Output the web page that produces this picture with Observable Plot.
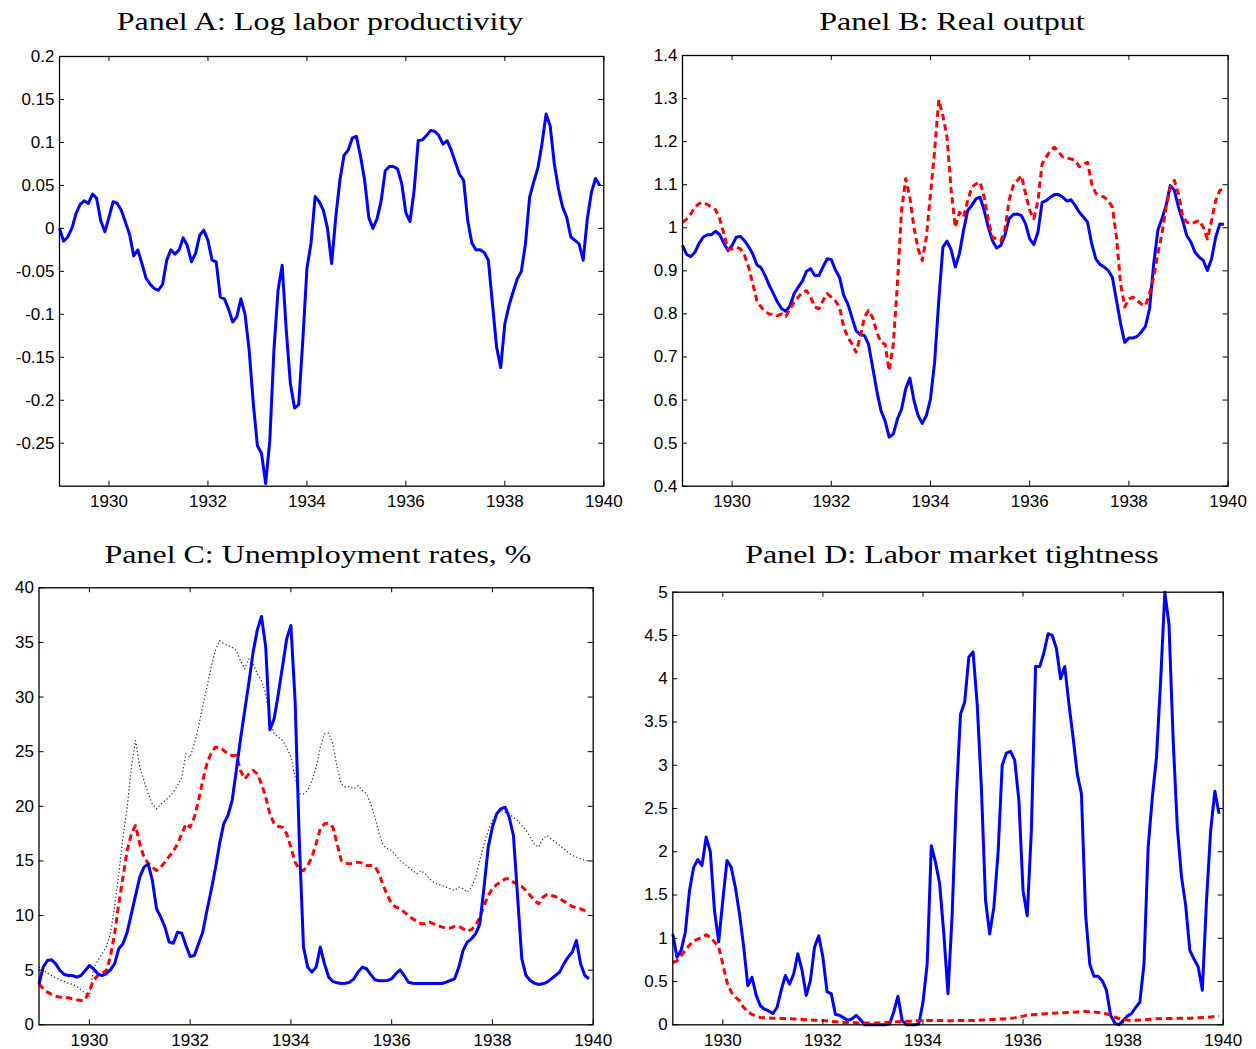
<!DOCTYPE html>
<html>
<head>
<meta charset="utf-8">
<script src="https://cdn.jsdelivr.net/npm/d3@7"></script>
<script src="https://cdn.jsdelivr.net/npm/@observablehq/plot@0.6"></script>
<style>
  html, body { margin: 0; padding: 0; background: #fff; }
  #fig { position: relative; width: 1256px; height: 1049px; overflow: hidden; }
</style>
</head>
<body>
<div id="fig"></div>
<script>
// Monthly observations, January 1929 through December 1939 (one row per year below).
const months = d3.range(132).map(i => 1929 + i / 12);

const xTicks = [1930, 1932, 1934, 1936, 1938, 1940];
const xTickLabels = ["1930", "1932", "1934", "1936", "1938", "1940"];

// Panel A: log labor productivity
const productivity = [
  0, -0.015, -0.01, 0, 0.017, 0.028, 0.032, 0.029, 0.04, 0.035, 0.009, -0.004,
  0.013, 0.031, 0.029, 0.021, 0.007, -0.007, -0.032, -0.025, -0.041, -0.058, -0.065, -0.07,
  -0.072, -0.065, -0.037, -0.025, -0.03, -0.025, -0.011, -0.02, -0.039, -0.029, -0.008, -0.002,
  -0.014, -0.037, -0.039, -0.08, -0.082, -0.094, -0.109, -0.103, -0.082, -0.1, -0.142, -0.204,
  -0.253, -0.262, -0.297, -0.247, -0.142, -0.072, -0.043, -0.119, -0.181, -0.209, -0.205, -0.131,
  -0.047, -0.017, 0.037, 0.031, 0.021, 0.0, -0.041, 0.013, 0.056, 0.085, 0.091, 0.105,
  0.107, 0.084, 0.056, 0.013, 0.0, 0.011, 0.032, 0.067, 0.072, 0.072, 0.069, 0.052,
  0.018, 0.008, 0.044, 0.102, 0.103, 0.108, 0.114, 0.113, 0.108, 0.098, 0.102, 0.091,
  0.077, 0.063, 0.056, 0.009, -0.017, -0.025, -0.025, -0.028, -0.037, -0.088, -0.138, -0.162,
  -0.111, -0.09, -0.074, -0.059, -0.05, -0.018, 0.036, 0.054, 0.07, 0.098, 0.133, 0.119,
  0.075, 0.046, 0.025, 0.013, -0.01, -0.014, -0.018, -0.037, 0.011, 0.042, 0.058, 0.05
];
const yTicksA = [-0.25, -0.2, -0.15, -0.1, -0.05, 0, 0.05, 0.1, 0.15, 0.2];
const yLabelsA = ["-0.25", "-0.2", "-0.15", "-0.1", "-0.05", "0", "0.05", "0.1", "0.15", "0.2"];

// Panel B: real output (solid and dashed series)
const outputSolid = [
  0.959, 0.938, 0.933, 0.943, 0.964, 0.978, 0.984, 0.984, 0.992, 0.984, 0.964, 0.947,
  0.959, 0.978, 0.980, 0.970, 0.956, 0.939, 0.914, 0.907, 0.889, 0.866, 0.847, 0.827,
  0.812, 0.806, 0.819, 0.847, 0.862, 0.876, 0.899, 0.905, 0.889, 0.889, 0.909, 0.928,
  0.926, 0.902, 0.885, 0.843, 0.823, 0.792, 0.761, 0.752, 0.750, 0.730, 0.676, 0.622,
  0.576, 0.552, 0.514, 0.521, 0.556, 0.579, 0.626, 0.651, 0.599, 0.564, 0.546, 0.564,
  0.603, 0.688, 0.831, 0.955, 0.969, 0.949, 0.909, 0.940, 0.994, 1.040, 1.052, 1.067,
  1.071, 1.040, 1.001, 0.970, 0.953, 0.959, 0.982, 1.021, 1.031, 1.032, 1.028, 1.009,
  0.974, 0.961, 0.990, 1.059, 1.063, 1.071, 1.077, 1.077, 1.071, 1.062, 1.065, 1.052,
  1.036, 1.025, 1.013, 0.963, 0.928, 0.915, 0.909, 0.901, 0.885, 0.831, 0.777, 0.734,
  0.744, 0.744, 0.748, 0.758, 0.771, 0.812, 0.916, 0.994, 1.021, 1.052, 1.098, 1.087,
  1.048, 1.017, 0.982, 0.967, 0.943, 0.932, 0.924, 0.901, 0.928, 0.978, 1.009, 1.008
];
const outputDashed = [
  1.013, 1.02, 1.032, 1.048, 1.056, 1.059, 1.054, 1.048, 1.042, 1.021, 0.986, 0.951,
  0.951, 0.955, 0.951, 0.936, 0.909, 0.870, 0.831, 0.816, 0.806, 0.800, 0.799, 0.796,
  0.800, 0.794, 0.812, 0.827, 0.839, 0.850, 0.854, 0.839, 0.816, 0.812, 0.831, 0.847,
  0.839, 0.830, 0.816, 0.769, 0.746, 0.730, 0.711, 0.746, 0.792, 0.808, 0.792, 0.758,
  0.734, 0.730, 0.668, 0.730, 0.870, 1.040, 1.114, 1.071, 1.001, 0.951, 0.924, 0.978,
  1.079, 1.179, 1.297, 1.26, 1.21, 1.087, 1.001, 1.036, 1.025, 1.063, 1.094, 1.102,
  1.106, 1.071, 1.017, 0.978, 0.974, 0.970, 0.994, 1.063, 1.098, 1.110, 1.121, 1.079,
  1.040, 1.021, 1.063, 1.148, 1.164, 1.179, 1.187, 1.176, 1.164, 1.162, 1.160, 1.156,
  1.142, 1.148, 1.152, 1.102, 1.080, 1.075, 1.071, 1.063, 1.048, 0.978, 0.870, 0.816,
  0.835, 0.839, 0.831, 0.823, 0.819, 0.847, 0.885, 0.940, 0.986, 1.048, 1.094, 1.110,
  1.079, 1.028, 1.013, 1.009, 1.013, 1.017, 1.001, 0.974, 1.017, 1.063, 1.087, 1.090
];
const yTicksB = [0.4, 0.5, 0.6, 0.7, 0.8, 0.9, 1, 1.1, 1.2, 1.3, 1.4];
const yLabelsB = ["0.4", "0.5", "0.6", "0.7", "0.8", "0.9", "1", "1.1", "1.2", "1.3", "1.4"];

// Panel C: unemployment rates, percent (solid, dashed, dotted series)
const unempSolid = [
  3.75, 5.28, 5.89, 5.95, 5.58, 4.97, 4.61, 4.51, 4.51, 4.36, 4.51, 4.97,
  5.43, 5.13, 4.67, 4.51, 4.67, 5.03, 5.58, 6.96, 7.41, 8.48, 10.16, 11.84,
  13.51, 14.43, 14.73, 13.21, 10.62, 9.85, 8.94, 7.57, 7.47, 8.48, 8.39, 7.26,
  6.25, 6.35, 7.41, 8.48, 10.46, 12.29, 14.28, 16.56, 18.40, 19.16, 20.53, 23.28,
  26.17, 28.77, 31.36, 34.11, 36.15, 37.37, 34.57, 27.0, 28.0, 30.29, 32.79, 35.33,
  36.55, 29.68, 16.87, 7.11, 5.28, 4.82, 5.28, 7.11, 5.58, 4.36, 3.97, 3.84,
  3.78, 3.81, 3.90, 4.21, 4.82, 5.28, 5.13, 4.61, 4.12, 4.03, 4.03, 4.06,
  4.21, 4.67, 5.03, 4.51, 3.90, 3.81, 3.78, 3.78, 3.78, 3.78, 3.78, 3.78,
  3.78, 3.90, 4.06, 4.21, 5.28, 6.8, 7.57, 7.87, 8.33, 9.24, 12.6, 16.26,
  18.09, 19.31, 19.77, 19.92, 19.0, 17.33, 11.68, 6.04, 4.51, 4.06, 3.81, 3.69,
  3.75, 3.90, 4.21, 4.51, 4.82, 5.58, 6.19, 6.65, 7.72, 5.58, 4.51, 4.21
];
const unempDashed = [
  3.75, 3.29, 2.99, 2.78, 2.62, 2.53, 2.53, 2.47, 2.38, 2.29, 2.23, 2.29,
  3.14, 4.06, 4.51, 4.67, 4.97, 6.19, 8.33, 11.07, 13.51, 15.95, 17.48, 18.24,
  16.56, 15.34, 14.8, 14.43, 14.12, 14.43, 14.89, 15.41, 15.89, 16.56, 17.48, 18.4,
  18.09, 19.0, 20.53, 22.36, 23.89, 24.86, 25.41, 25.41, 25.11, 24.80, 24.65, 24.65,
  23.28, 22.51, 22.97, 23.28, 22.97, 22.06, 20.84, 19.31, 18.4, 18.15, 18.09, 17.48,
  16.26, 14.89, 14.19, 14.12, 14.58, 15.34, 16.56, 17.94, 18.4, 18.46, 18.09, 16.56,
  15.04, 14.8, 14.73, 14.8, 14.89, 14.8, 14.58, 14.58, 14.49, 13.82, 12.75, 11.84,
  11.07, 10.77, 10.62, 10.31, 10.01, 9.7, 9.49, 9.24, 9.24, 9.40, 9.24, 9.09,
  8.94, 8.85, 8.85, 9.0, 9.0, 8.79, 8.57, 8.72, 9.09, 9.85, 10.92, 11.84,
  12.45, 12.84, 13.06, 13.36, 13.36, 13.06, 12.84, 12.66, 12.29, 11.84, 11.38, 11.07,
  11.68, 11.93, 11.84, 11.75, 11.53, 11.32, 11.07, 10.83, 10.71, 10.62, 10.46, 10.31
];
const unempDotted = [
  5.28, 4.97, 4.73, 4.51, 4.30, 4.12, 3.97, 3.81, 3.69, 3.51, 3.20, 2.9,
  2.6, 5.13, 5.89, 6.5, 7.11, 8.33, 10.77, 13.82, 17.17, 19.92, 23.58, 26.02,
  23.58, 22.36, 21.14, 20.23, 19.77, 20.16, 20.53, 20.84, 21.29, 21.9, 22.67, 24.8,
  24.5, 25.72, 27.24, 29.22, 30.9, 32.73, 34.26, 35.17, 34.87, 34.72, 34.56, 34.26,
  33.34, 32.58, 33.49, 33.04, 32.12, 31.51, 30.29, 27.85, 26.63, 26.33, 26.02, 25.41,
  24.5, 22.67, 21.14, 21.14, 21.45, 22.36, 23.58, 25.41, 26.63, 26.69, 25.72, 23.58,
  22.06, 21.75, 21.81, 21.6, 21.9, 21.45, 21.14, 20.23, 19.0, 17.48, 16.41, 16.11,
  15.95, 15.5, 15.04, 14.73, 14.43, 14.12, 13.82, 14.12, 13.82, 13.36, 13.06, 12.84,
  12.75, 12.6, 12.45, 12.29, 12.6, 12.45, 12.14, 12.6, 13.51, 15.04, 16.56, 17.78,
  18.7, 19.31, 19.62, 19.46, 19.31, 19.0, 18.7, 18.24, 17.78, 17.17, 16.56, 16.26,
  17.02, 17.33, 17.02, 16.72, 16.41, 16.11, 15.8, 15.5, 15.34, 15.19, 15.04, 15.04
];
const yTicksC = [0, 5, 10, 15, 20, 25, 30, 35, 40];
const yLabelsC = ["0", "5", "10", "15", "20", "25", "30", "35", "40"];

// Panel D: labor market tightness (solid and dashed series)
const tightSolid = [
  1.05, 0.78, 0.86, 1.07, 1.55, 1.82, 1.91, 1.84, 2.17, 2.0, 1.32, 0.96,
  1.44, 1.9, 1.82, 1.59, 1.28, 0.90, 0.45, 0.55, 0.34, 0.22, 0.18, 0.16,
  0.13, 0.20, 0.40, 0.57, 0.47, 0.59, 0.82, 0.63, 0.34, 0.51, 0.90, 1.03,
  0.78, 0.38, 0.36, 0.12, 0.11, 0.08, 0.05, 0.07, 0.11, 0.06, 0, 0,
  0, 0, 0, 0, 0.01, 0.15, 0.33, 0.05, 0, 0, 0, 0.01,
  0.26, 0.70, 2.07, 1.88, 1.63, 1.05, 0.36, 1.28, 2.63, 3.59, 3.73, 4.25,
  4.31, 3.71, 2.75, 1.44, 1.05, 1.36, 1.98, 3.0, 3.14, 3.16, 3.06, 2.59,
  1.55, 1.26, 2.25, 4.14, 4.14, 4.30, 4.52, 4.50, 4.35, 4.0, 4.14, 3.71,
  3.32, 2.90, 2.67, 1.28, 0.70, 0.56, 0.56, 0.51, 0.40, 0.11, 0.02, 0,
  0.05, 0.10, 0.13, 0.20, 0.26, 0.70, 2.05, 2.63, 3.09, 3.98, 5.0, 4.63,
  3.29, 2.28, 1.71, 1.38, 0.86, 0.76, 0.67, 0.40, 1.44, 2.25, 2.70, 2.44
];
const tightDashed = [
  0.72, 0.74, 0.80, 0.86, 0.92, 0.97, 0.99, 1.01, 1.04, 1.01, 0.96, 0.90,
  0.70, 0.49, 0.38, 0.32, 0.28, 0.20, 0.15, 0.12, 0.10, 0.085, 0.082, 0.08,
  0.077, 0.076, 0.074, 0.072, 0.07, 0.068, 0.065, 0.062, 0.058, 0.056, 0.054, 0.052,
  0.05, 0.045, 0.04, 0.035, 0.03, 0.028, 0.026, 0.024, 0.023, 0.022, 0.021, 0.02,
  0.02, 0.022, 0.025, 0.028, 0.03, 0.033, 0.035, 0.038, 0.04, 0.042, 0.045, 0.048,
  0.05, 0.05, 0.05, 0.05, 0.05, 0.049, 0.048, 0.048, 0.049, 0.05, 0.05, 0.05,
  0.05, 0.052, 0.055, 0.057, 0.06, 0.062, 0.065, 0.068, 0.07, 0.075, 0.08, 0.09,
  0.1, 0.11, 0.115, 0.12, 0.123, 0.126, 0.13, 0.133, 0.135, 0.138, 0.14, 0.143,
  0.146, 0.149, 0.152, 0.154, 0.152, 0.148, 0.143, 0.135, 0.127, 0.11, 0.09, 0.072,
  0.062, 0.055, 0.05, 0.052, 0.055, 0.058, 0.062, 0.066, 0.07, 0.071, 0.072, 0.073,
  0.074, 0.075, 0.076, 0.077, 0.077, 0.079, 0.081, 0.084, 0.087, 0.091, 0.095, 0.1
];
const yTicksD = [0, 0.5, 1, 1.5, 2, 2.5, 3, 3.5, 4, 4.5, 5];
const yLabelsD = ["0", "0.5", "1", "1.5", "2", "2.5", "3", "3.5", "4", "4.5", "5"];

// Line styles
const SOLID = {stroke: "#0000ff", strokeWidth: 3};
const DASHED = {stroke: "#ff0000", strokeWidth: 3, strokeDasharray: "6.5,4"};
const DOTTED = {stroke: "#222", strokeWidth: 1.2, strokeDasharray: "1.2,2.4"};

const fig = document.getElementById("fig");

function panel({left, top, width, height, mL, mR, mT, mB, yDomain, yTicks, yLabels, series}) {
  const fw = width - mL - mR;
  const fh = height - mT - mB;
  const tick = 5;
  const svg = Plot.plot({
    width, height,
    marginLeft: mL, marginRight: mR, marginTop: mT, marginBottom: mB,
    x: {domain: [1929, 1940]},
    y: {domain: yDomain},
    style: {
      fontFamily: "'Liberation Sans', Arial, Helvetica, sans-serif",
      fontSize: "17px",
      color: "#000",
      background: "transparent",
      overflow: "visible"
    },
    marks: [
      ...series.map(s => Plot.lineY(s.values, {
        x: (d, i) => months[i], y: d => d,
        ...s.style, strokeLinejoin: "round", strokeLinecap: "butt"
      })),
      // inward tick marks on all four sides
      Plot.tickX(xTicks, {x: d => d, insetTop: fh - tick, stroke: "#000", strokeWidth: 1}),
      Plot.tickX(xTicks, {x: d => d, insetBottom: fh - tick, stroke: "#000", strokeWidth: 1}),
      Plot.tickY(yTicks, {y: d => d, insetRight: fw - tick, stroke: "#000", strokeWidth: 1}),
      Plot.tickY(yTicks, {y: d => d, insetLeft: fw - tick, stroke: "#000", strokeWidth: 1}),
      Plot.frame({stroke: "#000", strokeWidth: 1.3}),
      Plot.axisX(xTicks, {
        anchor: "bottom", tickSize: 0, tickPadding: 9, label: null,
        tickFormat: d => xTickLabels[xTicks.indexOf(d)]
      }),
      Plot.axisY(yTicks, {
        anchor: "left", tickSize: 0, tickPadding: 5, label: null,
        tickFormat: d => yLabels[yTicks.indexOf(d)]
      })
    ]
  });
  svg.style.position = "absolute";
  svg.style.left = left + "px";
  svg.style.top = top + "px";
  fig.appendChild(svg);
}

panel({
  left: 0, top: 36, width: 625, height: 484,
  mL: 59, mR: 21.7, mT: 20, mB: 34.3,
  yDomain: [-0.3, 0.2], yTicks: yTicksA, yLabels: yLabelsA,
  series: [{values: productivity, style: SOLID}]
});

panel({
  left: 630, top: 36, width: 626, height: 484,
  mL: 52, mR: 28.4, mT: 19, mB: 34.3,
  yDomain: [0.4, 1.4], yTicks: yTicksB, yLabels: yLabelsB,
  series: [{values: outputSolid, style: SOLID}, {values: outputDashed, style: DASHED}]
});

panel({
  left: 0, top: 570, width: 625, height: 479,
  mL: 38.5, mR: 32.3, mT: 17.3, mB: 24.7,
  yDomain: [0, 40], yTicks: yTicksC, yLabels: yLabelsC,
  series: [
    {values: unempDotted, style: DOTTED},
    {values: unempDashed, style: DASHED},
    {values: unempSolid, style: SOLID}
  ]
});

panel({
  left: 630, top: 570, width: 626, height: 479,
  mL: 42.3, mR: 33.3, mT: 21.7, mB: 24.7,
  yDomain: [0, 5], yTicks: yTicksD, yLabels: yLabelsD,
  series: [{values: tightSolid, style: SOLID}, {values: tightDashed, style: DASHED}]
});

// Panel titles
const titles = [
  {text: "Panel A: Log labor productivity", cx: 320, y: 30},
  {text: "Panel B: Real output", cx: 952, y: 30},
  {text: "Panel C: Unemployment rates, %", cx: 318, y: 563},
  {text: "Panel D: Labor market tightness", cx: 952, y: 563}
];
const tsvg = d3.select(fig).append("svg")
  .attr("width", 1256).attr("height", 1049)
  .style("position", "absolute").style("left", "0px").style("top", "0px")
  .style("pointer-events", "none");
tsvg.selectAll("text").data(titles).join("text")
  .attr("transform", d => `translate(${d.cx},${d.y}) scale(1.23,1)`)
  .attr("text-anchor", "middle")
  .attr("fill", "#000")
  .style("font-family", "'Liberation Serif', 'Times New Roman', serif")
  .style("font-size", "26px")
  .text(d => d.text);
</script>
</body>
</html>
